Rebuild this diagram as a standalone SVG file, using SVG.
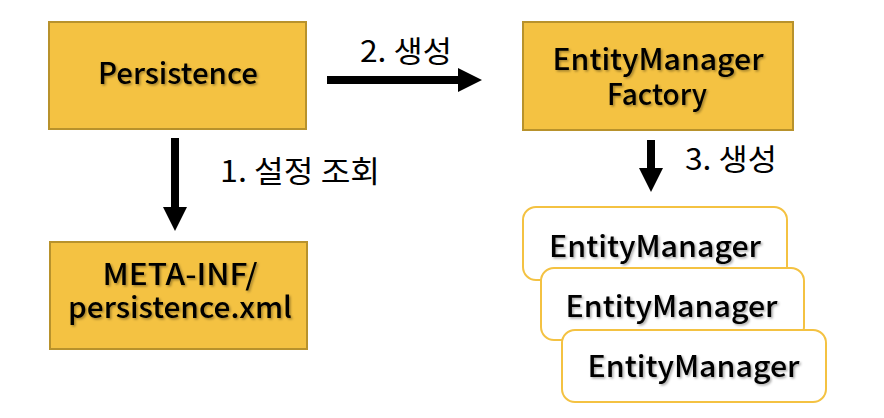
<svg xmlns="http://www.w3.org/2000/svg" width="884" height="418" viewBox="0 0 884 418">
  <defs>
    <filter id="sh" x="-10%" y="-30%" width="120%" height="160%">
      <feDropShadow dx="1.5" dy="1.5" stdDeviation="0.8" flood-color="#000" flood-opacity="0.35"/>
    </filter>
  </defs>
  <style>
    .box { fill: #F4C242; stroke: #B8922C; stroke-width: 2; }
    .em { fill: #FFFFFF; stroke: #F4C242; stroke-width: 2; }
    .t { font-family: "Noto Sans CJK KR", "Noto Sans", sans-serif; font-size: 29px; font-weight: 500; fill: #000; text-anchor: middle; filter: url(#sh); }
    .lbl { font-family: "Noto Sans CJK KR", "Noto Sans", sans-serif; font-size: 30px; fill: #000; }
    .arr { fill: #000; }
  </style>
  <rect width="884" height="418" fill="#FFFFFF"/>
  <g id="persistence">
    <rect class="box" x="49" y="22" width="257" height="107"/>
    <text class="t" x="178" y="84" textLength="160" lengthAdjust="spacingAndGlyphs">Persistence</text>
  </g>
  <g id="emf">
    <rect class="box" x="523" y="22" width="270" height="108"/>
    <text class="t"><tspan x="658" y="70" textLength="211" lengthAdjust="spacingAndGlyphs">EntityManager</tspan><tspan x="657" y="105" textLength="100" lengthAdjust="spacingAndGlyphs">Factory</tspan></text>
  </g>
  <g id="meta-inf">
    <rect class="box" x="50" y="242" width="257" height="107"/>
    <text class="t"><tspan x="180" y="285" textLength="155" lengthAdjust="spacingAndGlyphs">META-INF/</tspan><tspan x="180" y="318" textLength="224" lengthAdjust="spacingAndGlyphs">persistence.xml</tspan></text>
  </g>
  <g id="em1">
    <rect class="em" x="523" y="207" width="264" height="73" rx="13"/>
    <text class="t" x="655" y="257" textLength="212" lengthAdjust="spacingAndGlyphs">EntityManager</text>
  </g>
  <g id="em2">
    <rect class="em" x="541" y="268" width="263" height="72" rx="13"/>
    <text class="t" x="671.5" y="317" textLength="212" lengthAdjust="spacingAndGlyphs">EntityManager</text>
  </g>
  <g id="em3">
    <rect class="em" x="562" y="330" width="264" height="72" rx="13"/>
    <text class="t" x="693.5" y="377" textLength="212" lengthAdjust="spacingAndGlyphs">EntityManager</text>
  </g>
  <g id="connectors">
    <polygon class="arr" points="327,76 458,76 458,68 482,80 458,92 458,84 327,84"/>
    <polygon class="arr" points="171,138 179,138 179,207 187,207 175,231 163,207 171,207"/>
    <polygon class="arr" points="647,140 655,140 655,168 663,168 651,192 639,168 647,168"/>
  </g>
  <g id="labels">
    <text class="lbl" x="360" y="62" textLength="92" lengthAdjust="spacingAndGlyphs">2. 생성</text>
    <text class="lbl" x="220" y="182" textLength="160" lengthAdjust="spacingAndGlyphs">1. 설정 조회</text>
    <text class="lbl" x="685" y="170" textLength="92" lengthAdjust="spacingAndGlyphs">3. 생성</text>
  </g>
</svg>
